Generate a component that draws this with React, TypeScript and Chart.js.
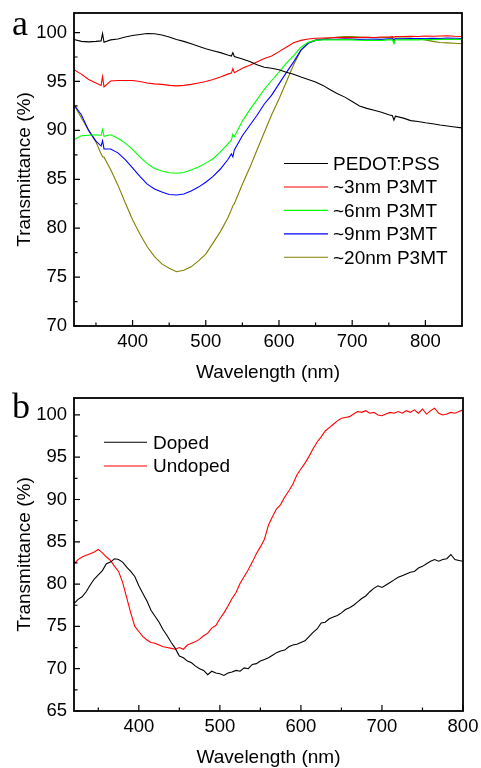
import React, { useEffect, useRef } from "react";
import { Chart, registerables } from "chart.js";
Chart.register(...registerables);

const FONT = "'Liberation Sans', Arial, sans-serif";

// ---------- Panel a ----------
const WL_A = [
  320, 330, 340, 350, 357, 359, 361, 370, 380, 390,
  400, 410, 420, 430, 440, 450, 460, 470, 480, 490,
  500, 510, 520, 530, 535, 537, 539, 550, 560, 570,
  580, 590, 600, 610, 620, 630, 640, 650, 660, 670,
  680, 690, 700, 710, 720, 730, 740, 750, 755, 757,
  759, 770, 780, 790, 800, 810, 820, 830, 840, 850,
];
const PEDOT = [
  99.3, 99.1, 99.05, 99.1, 99.15, 99.9, 99.0, 99.25, 99.35, 99.55,
  99.7, 99.8, 99.9, 99.88, 99.75, 99.55, 99.3, 99.1, 98.85, 98.6,
  98.35, 98.15, 97.95, 97.7, 97.6, 97.95, 97.55, 97.3, 97.05, 96.7,
  96.45, 96.35, 96.2, 95.95, 95.73, 95.45, 95.2, 94.95, 94.6, 94.15,
  93.75, 93.4, 92.95, 92.5, 92.25, 92.05, 91.85, 91.6, 91.5, 91.05,
  91.45, 91.25, 91.0, 90.9, 90.78, 90.68, 90.55, 90.45, 90.35, 90.25,
];
const P3MT_3 = [
  96.2, 95.75, 95.2, 94.85, 94.6, 95.5, 94.45, 95.05, 95.1, 95.1,
  95.1, 95.0, 94.85, 94.75, 94.7, 94.6, 94.55, 94.6, 94.7, 94.85,
  95.0, 95.2, 95.45, 95.75, 95.85, 96.3, 95.9, 96.35, 96.65, 97.0,
  97.35, 97.6, 98.05, 98.5, 98.95, 99.2, 99.35, 99.42, 99.45, 99.47,
  99.48, 99.5, 99.48, 99.5, 99.52, 99.5, 99.55, 99.55, 99.58, 99.5,
  99.6, 99.6, 99.62, 99.6, 99.65, 99.62, 99.65, 99.68, 99.62, 99.6,
];
const P3MT_6 = [
  89.05, 89.45, 89.5, 89.55, 89.5, 90.1, 89.4, 89.55, 89.2, 88.7,
  88.05, 87.3, 86.6, 86.1, 85.85, 85.66, 85.62, 85.7, 85.95, 86.25,
  86.65, 87.1, 87.8, 88.6, 89.0, 89.6, 89.35, 90.95, 92.1, 93.15,
  94.2, 95.1, 95.95, 96.85, 97.65, 98.5, 99.0, 99.2, 99.25, 99.25,
  99.25, 99.28, 99.25, 99.22, 99.2, 99.22, 99.2, 99.25, 99.25, 98.85,
  99.25, 99.25, 99.28, 99.25, 99.3, 99.28, 99.3, 99.32, 99.3, 99.3,
];
const P3MT_9 = [
  92.6, 91.6, 90.0, 88.9, 88.4, 88.95, 88.1, 88.1, 87.7, 87.0,
  86.17, 85.3, 84.5, 84.0, 83.7, 83.45, 83.4, 83.5, 83.8, 84.2,
  84.7, 85.3, 86.05, 87.0, 87.6, 87.3, 88.0, 89.45, 90.5, 91.55,
  92.7, 93.6, 94.75, 95.9, 97.0, 98.2, 98.9, 99.2, 99.3, 99.32,
  99.32, 99.35, 99.33, 99.3, 99.32, 99.33, 99.3, 99.35, 99.35, 99.3,
  99.35, 99.35, 99.38, 99.4, 99.4, 99.42, 99.4, 99.45, 99.42, 99.4,
];
const P3MT_20 = [
  92.6, 91.3, 90.0, 88.8, 87.6, 87.3, 87.25, 86.0, 84.4, 82.6,
  80.87, 79.4, 78.1, 77.1, 76.35, 75.9, 75.55, 75.7, 76.05, 76.65,
  77.35, 78.5, 79.65, 81.05, 81.9, 82.3, 82.5, 84.5, 86.17, 88.0,
  89.8, 91.6, 93.2, 94.95, 96.7, 98.2, 98.95, 99.25, 99.35, 99.45,
  99.55, 99.6, 99.58, 99.55, 99.52, 99.5, 99.5, 99.5, 99.48, 99.05,
  99.45, 99.45, 99.45, 99.35, 99.25, 99.1, 98.98, 98.95, 98.9, 98.85,
];
const LABELS_A = ["PEDOT:PSS", "~3nm P3MT", "~6nm P3MT", "~9nm P3MT", "~20nm P3MT"];
const COLORS_A = ["#000000", "#ff0000", "#00ff00", "#0000ff", "#808000"];
const X_TICKS_A = [400, 500, 600, 700, 800];
const X_MINOR_A = [350, 450, 550, 650, 750];
const Y_TICKS_A = [70, 75, 80, 85, 90, 95, 100];
const Y_MINOR_A = [72.5, 77.5, 82.5, 87.5, 92.5, 97.5];

// ---------- Panel b ----------
const WL_B = [
  320, 325, 330, 335, 340, 345, 350, 355, 360, 365,
  370, 375, 380, 385, 390, 395, 400, 405, 410, 415,
  420, 425, 430, 435, 440, 445, 450, 455, 460, 465,
  470, 475, 480, 485, 490, 495, 500, 505, 510, 515,
  520, 525, 530, 535, 540, 545, 550, 555, 560, 565,
  570, 575, 580, 585, 590, 595, 600, 605, 610, 615,
  620, 625, 630, 635, 640, 645, 650, 655, 660, 665,
  670, 675, 680, 685, 690, 695, 700, 705, 710, 715,
  720, 725, 730, 735, 740, 745, 750, 755, 760, 765,
  770, 775, 780, 785, 790, 795, 800,
];
const DOPED = [
  77.7, 78.2, 78.5, 79.1, 79.9, 80.6, 81.1, 81.6, 82.4, 82.6,
  83.0, 82.9, 82.6, 82.0, 81.5, 80.9, 79.8, 78.9, 78.0, 76.9,
  76.2, 75.5, 74.6, 73.9, 73.1, 72.4, 71.5, 71.3, 70.9, 70.7,
  70.3, 70.0, 69.8, 69.3, 69.7, 69.5, 69.4, 69.2, 69.5, 69.6,
  69.8, 69.7, 70.1, 70.0, 70.5, 70.6, 70.9, 71.1, 71.3, 71.6,
  71.9, 72.1, 72.2, 72.6, 72.8, 72.9, 73.1, 73.3, 73.8, 74.3,
  74.7, 75.4, 75.5, 75.9, 76.1, 76.3, 76.6, 77.0, 77.2, 77.5,
  77.9, 78.3, 78.6, 79.1, 79.5, 79.8, 79.6, 79.9, 80.2, 80.5,
  80.8, 81.0, 81.2, 81.4, 81.5, 81.9, 82.1, 82.4, 82.7, 82.9,
  82.7, 82.9, 83.0, 83.5, 82.9, 82.8, 82.7,
];
const UNDOPED = [
  82.4, 82.9, 83.2, 83.4, 83.6, 83.8, 84.1, 83.7, 83.2, 82.8,
  82.1, 81.5, 80.2, 78.4, 76.6, 75.0, 74.4, 73.8, 73.4, 73.1,
  73.0, 72.8, 72.6, 72.5, 72.4, 72.3, 72.5, 72.3, 72.8, 73.0,
  73.2, 73.5, 73.9, 74.2, 74.8, 75.1, 75.9, 76.6, 77.4, 78.3,
  79.0, 80.1, 80.9, 81.7, 82.6, 83.6, 84.4, 85.3, 87.0, 88.0,
  88.9, 89.4, 90.3, 91.0, 91.8, 92.9, 93.6, 94.3, 95.1, 96.0,
  96.8, 97.4, 98.1, 98.5, 98.9, 99.3, 99.6, 99.7, 99.8, 100.1,
  100.4, 100.3, 100.5, 100.2, 100.3, 100.0, 99.9, 100.1, 100.3, 100.2,
  100.4, 100.2, 100.5, 100.3, 100.6, 100.2, 100.7, 100.1, 100.5, 100.8,
  100.2, 100.0, 100.1, 100.3, 100.2, 100.4, 100.6,
];
const LABELS_B = ["Doped", "Undoped"];
const COLORS_B = ["#000000", "#ff0000"];
const X_TICKS_B = [400, 500, 600, 700, 800];
const X_MINOR_B = [350, 450, 550, 650, 750];
const Y_TICKS_B = [65, 70, 75, 80, 85, 90, 95, 100];
const Y_MINOR_B = [67.5, 72.5, 77.5, 82.5, 87.5, 92.5, 97.5];

type PanelSpec = {
  letter: string;
  wl: number[];
  series: number[][];
  labels: string[];
  colors: string[];
  xMin: number;
  xMax: number;
  yMin: number;
  yMax: number;
  xTicks: number[];
  xMinor: number[];
  yTicks: number[];
  yMinor: number[];
  padRight: number;
  legend: { lineX0: number; lineX1: number; textX: number; y0: number; dy: number };
  letterY: number;
};

function decorPlugin(p: PanelSpec) {
  return {
    id: "decor" + p.letter,
    afterDraw(chart: any) {
      const { ctx, chartArea } = chart;
      const { left, right, top, bottom } = chartArea;
      const xs = chart.scales.x;
      const ys = chart.scales.y;
      ctx.save();
      ctx.strokeStyle = "#000";
      ctx.lineWidth = 1.8;
      ctx.strokeRect(left, top, right - left, bottom - top);
      ctx.lineWidth = 1.2;
      ctx.beginPath();
      for (const v of p.xTicks) {
        const px = xs.getPixelForValue(v);
        ctx.moveTo(px, bottom);
        ctx.lineTo(px, bottom - 6);
      }
      for (const v of p.xMinor) {
        const px = xs.getPixelForValue(v);
        ctx.moveTo(px, bottom);
        ctx.lineTo(px, bottom - 3.5);
      }
      for (const v of p.yTicks) {
        const py = ys.getPixelForValue(v);
        ctx.moveTo(left, py);
        ctx.lineTo(left + 6, py);
      }
      for (const v of p.yMinor) {
        const py = ys.getPixelForValue(v);
        ctx.moveTo(left, py);
        ctx.lineTo(left + 3.5, py);
      }
      ctx.stroke();

      // legend
      ctx.font = "19px " + FONT;
      ctx.textBaseline = "middle";
      ctx.textAlign = "left";
      p.labels.forEach((lab, i) => {
        const y = p.legend.y0 + i * p.legend.dy;
        ctx.strokeStyle = p.colors[i];
        ctx.lineWidth = 1.1;
        ctx.beginPath();
        ctx.moveTo(p.legend.lineX0, y);
        ctx.lineTo(p.legend.lineX1, y);
        ctx.stroke();
        ctx.fillStyle = "#000";
        ctx.fillText(lab, p.legend.textX, y + 1);
      });

      // panel letter
      ctx.font = "36px 'Liberation Serif', 'Times New Roman', serif";
      ctx.textBaseline = "alphabetic";
      ctx.fillStyle = "#000";
      ctx.fillText(p.letter, 12, p.letterY);
      ctx.restore();
    },
  };
}

function makeConfig(p: PanelSpec): any {
  return {
    type: "line",
    data: {
      datasets: p.series.map((vals, i) => ({
        label: p.labels[i],
        data: p.wl.map((x, j) => ({ x, y: vals[j] })),
        borderColor: p.colors[i],
        backgroundColor: p.colors[i],
        borderWidth: 1.1,
        pointRadius: 0,
        fill: false,
        tension: 0,
      })),
    },
    options: {
      animation: false,
      responsive: false,
      events: [],
      layout: { padding: { left: 0, right: p.padRight, top: 13, bottom: 0 } },
      plugins: { legend: { display: false }, tooltip: { enabled: false } },
      scales: {
        x: {
          type: "linear",
          min: p.xMin,
          max: p.xMax,
          grid: { display: false, drawTicks: false },
          border: { display: false },
          afterBuildTicks: (s: any) => {
            s.ticks = p.xTicks.map((v) => ({ value: v }));
          },
          afterFit: (s: any) => {
            s.height = 59;
            s.paddingLeft = 0;
            s.paddingRight = 0;
          },
          ticks: {
            color: "#000",
            padding: 5,
            autoSkip: false,
            maxRotation: 0,
            font: { family: FONT, size: 18.5 },
          },
          title: {
            display: true,
            text: "Wavelength (nm)",
            color: "#000",
            font: { family: FONT, size: 19 },
            padding: { top: 0, bottom: 1 },
          },
        },
        y: {
          type: "linear",
          min: p.yMin,
          max: p.yMax,
          grid: { display: false, drawTicks: false },
          border: { display: false },
          afterBuildTicks: (s: any) => {
            s.ticks = p.yTicks.map((v) => ({ value: v }));
          },
          afterFit: (s: any) => {
            s.width = 74;
            s.paddingTop = 0;
            s.paddingBottom = 0;
          },
          ticks: {
            color: "#000",
            padding: 7,
            autoSkip: false,
            font: { family: FONT, size: 18.5 },
          },
          title: {
            display: true,
            text: "Transmittance (%)",
            color: "#000",
            font: { family: FONT, size: 19 },
            padding: { top: 13, bottom: 0 },
          },
        },
      },
    },
    plugins: [decorPlugin(p)],
  };
}

const PANEL_A: PanelSpec = {
  letter: "a",
  wl: WL_A,
  series: [PEDOT, P3MT_3, P3MT_6, P3MT_9, P3MT_20],
  labels: LABELS_A,
  colors: COLORS_A,
  xMin: 320,
  xMax: 850,
  yMin: 70,
  yMax: 102,
  xTicks: X_TICKS_A,
  xMinor: X_MINOR_A,
  yTicks: Y_TICKS_A,
  yMinor: Y_MINOR_A,
  padRight: 19,
  legend: { lineX0: 284, lineX1: 328, textX: 333, y0: 163.5, dy: 23.45 },
  letterY: 35,
};

const PANEL_B: PanelSpec = {
  letter: "b",
  wl: WL_B,
  series: [DOPED, UNDOPED],
  labels: LABELS_B,
  colors: COLORS_B,
  xMin: 320,
  xMax: 800,
  yMin: 65,
  yMax: 102,
  xTicks: X_TICKS_B,
  xMinor: X_MINOR_B,
  yTicks: Y_TICKS_B,
  yMinor: Y_MINOR_B,
  padRight: 18,
  legend: { lineX0: 104, lineX1: 147, textX: 153, y0: 57.3, dy: 23.7 },
  letterY: 33,
};

function Panel({ spec, top }: { spec: PanelSpec; top: number }) {
  const ref = useRef<HTMLCanvasElement>(null);
  useEffect(() => {
    if (!ref.current) return;
    const chart = new Chart(ref.current, makeConfig(spec));
    return () => chart.destroy();
  }, [spec]);
  return (
    <canvas
      ref={ref}
      width={481}
      height={385}
      style={{ position: "absolute", left: 0, top, width: 481, height: 385, display: "block" }}
    />
  );
}

export default function App() {
  return (
    <div
      style={{
        position: "absolute",
        left: 0,
        top: 0,
        width: 481,
        height: 768,
        overflow: "hidden",
        background: "#fff",
      }}
    >
      <Panel spec={PANEL_A} top={0} />
      <Panel spec={PANEL_B} top={385} />
    </div>
  );
}
